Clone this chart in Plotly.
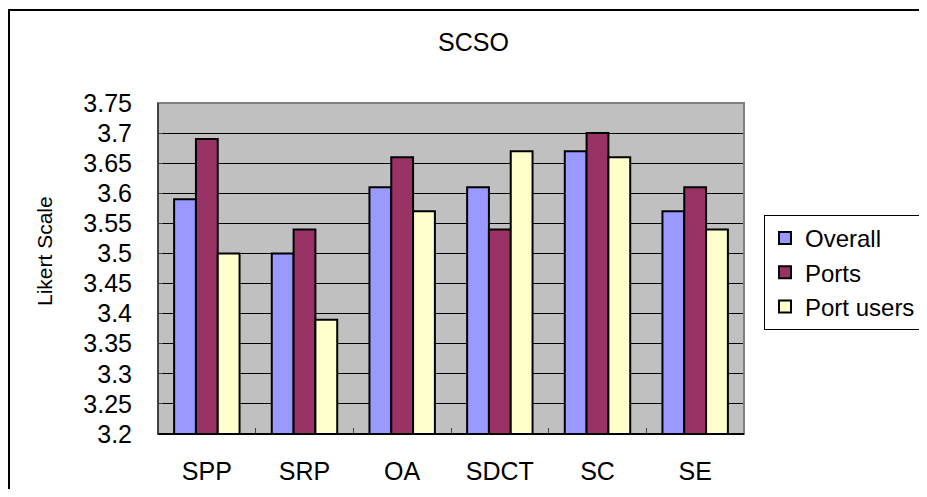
import plotly.graph_objects as go

categories = ["SPP", "SRP", "OA", "SDCT", "SC", "SE"]
overall = [3.59, 3.50, 3.61, 3.61, 3.67, 3.57]
ports = [3.69, 3.54, 3.66, 3.54, 3.70, 3.61]
port_users = [3.50, 3.39, 3.57, 3.67, 3.66, 3.54]
series_names = ["Overall", "Ports", "Port users"]
series_colors = ["#9999FF", "#993366", "#FFFFCC"]
tick_vals = [3.2, 3.25, 3.3, 3.35, 3.4, 3.45, 3.5, 3.55, 3.6, 3.65, 3.7, 3.75]
tick_text = ["3.2", "3.25", "3.3", "3.35", "3.4", "3.45", "3.5", "3.55", "3.6", "3.65", "3.7", "3.75"]
title_text = "SCSO"
y_title = "Likert Scale"

FONT = "Liberation Sans, Arial, sans-serif"

fig = go.Figure()
for name, vals, col in zip(series_names, [overall, ports, port_users], series_colors):
    fig.add_trace(go.Bar(
        x=categories, y=vals, name=name,
        marker=dict(color=col, line=dict(color="black", width=2)),
    ))

# page body has an 8px margin; figure sized to fit the window without scrollbars
OFF = 8
W, H = 927 - 2 * OFF, 497 - 2 * OFF
PL, PR, PT, PB = 158, 744, 103, 434  # plot area in screen pixels
pw, ph = PR - PL, PB - PT
L, T = PL - OFF, PT - OFF
R = W - (PR - OFF)
B = H - (PB - OFF)

def px(x):
    return (x - PL) / pw

def py(y):
    return (PB - y) / ph

frame_path = "M {x0},{y0} L {x0},{y1} L {x1},{y1}".format(
    x0=px(9), y0=py(560), y1=py(10), x1=px(990))

fig.update_layout(
    width=W, height=H,
    margin=dict(l=L, r=R, t=T, b=B, pad=0, autoexpand=False),
    paper_bgcolor="white",
    plot_bgcolor="#C0C0C0",
    barmode="group",
    bargap=0.33,
    bargroupgap=0,
    font=dict(family=FONT, color="black", size=24),
    showlegend=True,
    legend=dict(
        x=px(764), y=py(215), xanchor="left", yanchor="top",
        bgcolor="white", bordercolor="black", borderwidth=1,
        font=dict(size=24, family=FONT),
        tracegroupgap=0,
    ),
    xaxis=dict(
        automargin=False,
        showgrid=False, showline=False, zeroline=False,
        ticks="inside", tickson="boundaries", ticklen=6, tickcolor="#404040", tickwidth=1,
        tickfont=dict(size=25, family=FONT),
        ticklabelstandoff=20,
    ),
    yaxis=dict(
        automargin=False,
        range=[3.2, 3.75],
        tickvals=tick_vals, ticktext=tick_text,
        showgrid=True, gridcolor="black", gridwidth=1,
        showline=False, zeroline=False,
        ticks="inside", ticklen=5, tickcolor="#404040", tickwidth=1,
        tickfont=dict(size=25, family=FONT),
        ticklabelstandoff=25,
    ),
    shapes=[
        dict(type="rect", xref="paper", yref="paper", x0=0, x1=1, y0=0, y1=1,
             line=dict(color="#808080", width=2), layer="above"),
        dict(type="line", xref="paper", yref="paper", x0=0, x1=1, y0=0, y1=0,
             line=dict(color="black", width=2), layer="above"),
        dict(type="line", xref="paper", yref="paper", x0=0, x1=0, y0=0, y1=1,
             line=dict(color="#404040", width=2), layer="above"),
        dict(type="path", xref="paper", yref="paper", path=frame_path,
             line=dict(color="black", width=2), layer="above"),
    ],
    annotations=[
        dict(text=title_text, xref="paper", yref="paper", x=px(473), y=py(42),
             xanchor="center", yanchor="middle", showarrow=False,
             font=dict(size=25, family=FONT)),
        dict(text=y_title, xref="paper", yref="paper", x=px(44), y=py(251),
             xanchor="center", yanchor="middle", showarrow=False, textangle=-90,
             font=dict(size=21, family=FONT)),
    ],
)

fig.write_html("out.html")
